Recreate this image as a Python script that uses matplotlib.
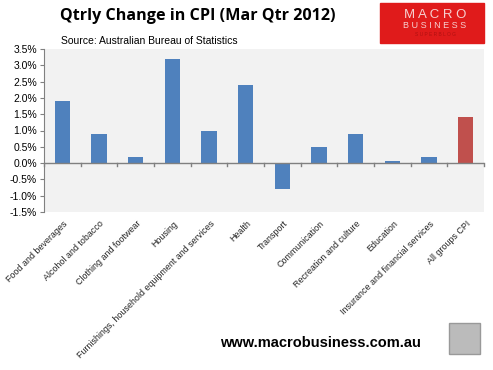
import numpy as np
import matplotlib
matplotlib.use("Agg")
import matplotlib.pyplot as plt
from matplotlib.patches import Rectangle
from matplotlib.ticker import FuncFormatter, MultipleLocator

categories = [
    "Food and beverages", "Alcohol and tobacco", "Clothing and footwear",
    "Housing", "Furnishings, household equipment and services", "Health",
    "Transport", "Communication", "Recreation and culture", "Education",
    "Insurance and financial services", "All groups CPI",
]
values = [1.9, 0.9, 0.2, 3.2, 1.0, 2.4, -0.8, 0.5, 0.9, 0.07, 0.2, 1.4]
highlight = "All groups CPI"

plt.rcParams["font.family"] = ["Liberation Sans", "DejaVu Sans"]

fig = plt.figure(figsize=(4.93, 3.70), dpi=100)
ax = fig.add_axes([44 / 493, 1 - 212 / 370, 440 / 493, 163 / 370])
ax.set_facecolor("#F2F2F2")

x = np.arange(len(categories))
colors = ["#C0504D" if c == highlight else "#4F81BD" for c in categories]
ax.bar(x, values, width=0.41, color=colors, zorder=2)

ax.set_xlim(-0.5, len(categories) - 0.5)
ax.set_ylim(-1.5, 3.5)
ax.yaxis.set_major_locator(MultipleLocator(0.5))
ax.yaxis.set_major_formatter(FuncFormatter(lambda v, p: f"{v:.1f}%"))
ax.tick_params(axis="y", labelsize=7.5, length=3, color="#808080", pad=2)

for s in ["top", "right", "bottom"]:
    ax.spines[s].set_visible(False)
ax.spines["left"].set_color("#808080")
ax.axhline(0, color="#808080", lw=1, zorder=3)
ax.set_xticks([])
for b in np.arange(len(categories) + 1) - 0.5:
    ax.plot([b, b], [0, -0.09], color="#808080", lw=1, clip_on=False, zorder=3)

for i, c in enumerate(categories):
    ax.text(i + 0.02, -1.72, c, rotation=45, ha="right", va="top",
            rotation_mode="anchor", fontsize=6.4, color="#222222")

fig.text(60 / 493, 1 - 16 / 370, "Qtrly Change in CPI (Mar Qtr 2012)",
         fontsize=11.6, fontweight="bold", family=["Open Sans", "DejaVu Sans"],
         va="center", ha="left")
fig.text(61 / 493, 1 - 41 / 370, "Source: Australian Bureau of Statistics",
         fontsize=7.5, va="center", ha="left")

# logo block
fig.patches.append(Rectangle((380 / 493, 1 - 43 / 370), 104 / 493, 40 / 370,
                             transform=fig.transFigure, color="#E01B1B", zorder=1))
fig.text(435 / 493, 1 - 15 / 370, "M A C R O", fontsize=9.5, color="#F6D0D0",
         ha="center", va="center")
fig.text(435 / 493, 1 - 26 / 370, "B U S I N E S S", fontsize=6.5, color="#F6D0D0",
         ha="center", va="center")
fig.text(435 / 493, 1 - 34 / 370, "S U P E R B L O G", fontsize=3.5,
         color="#B01010", ha="center", va="center")

fig.text(320 / 493, 1 - 343 / 370, "www.macrobusiness.com.au", fontsize=10.5,
         fontweight="bold", ha="center", va="center")
fig.patches.append(Rectangle((449 / 493, 1 - 354 / 370), 31 / 493, 31 / 370,
                             transform=fig.transFigure, facecolor="#BBBBBB",
                             edgecolor="#999999", lw=1, zorder=1))

fig.savefig("out.png", dpi=100, facecolor="white")
